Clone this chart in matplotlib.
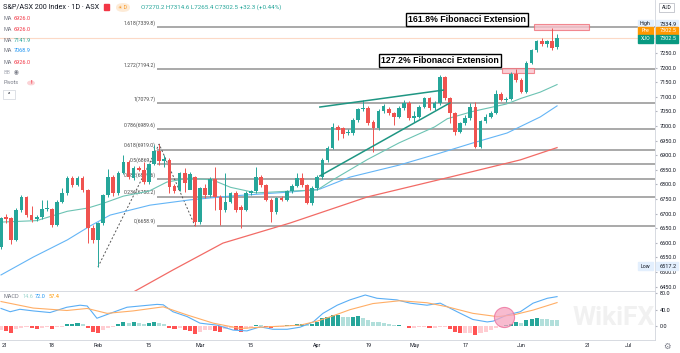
import numpy as np
import matplotlib.pyplot as plt
from matplotlib.patches import Rectangle, FancyBboxPatch

plt.rcParams['font.family'] = ['Roboto', 'DejaVu Sans']

W, H = 680, 353

# daily candles, S&P/ASX 200, 4 Jan 2021 .. 10 Jun 2021 (index = trading day)
opens = [6587, 6690, 6684, 6610, 6712, 6756, 6695, 6680, 6687, 6715,
         6715, 6661, 6741, 6770, 6823, 6798, 6823, 6781, 6650, 6610,
         6667, 6764, 6826, 6770, 6840, 6878, 6821, 6855, 6850, 6807,
         6869, 6914, 6881, 6884, 6795, 6781, 6838, 6780, 6826, 6672,
         6787, 6764, 6818, 6758, 6712, 6741, 6770, 6724, 6712, 6770,
         6776, 6827, 6798, 6747, 6707, 6752, 6747, 6777, 6795, 6823,
         6798, 6737, 6787, 6826, 6884, 6924, 6998, 6992, 6975, 6975,
         7021, 7057, 7063, 7015, 6994, 7051, 7057, 7043, 7032, 7061,
         7080, 7026, 7032, 7066, 7095, 7061, 7078, 7169, 7095, 7043,
         6980, 7009, 7026, 7066, 6929, 7018, 7032, 7046, 7110, 7088,
         7092, 7178, 7158, 7118, 7217, 7260, 7291, 7280, 7291, 7270.2]
highs = [6690, 6700, 6690, 6720, 6765, 6760, 6725, 6695, 6745, 6748,
         6720, 6745, 6787, 6828, 6830, 6828, 6830, 6785, 6660, 6672,
         6768, 6852, 6832, 6845, 6901, 6884, 6862, 6862, 6878, 6875,
         6936, 6938, 6901, 6890, 6800, 6842, 6855, 6841, 6830, 6792,
         6800, 6825, 6861, 6765, 6838, 6775, 6776, 6730, 6776, 6782,
         6859, 6832, 6803, 6752, 6758, 6760, 6782, 6800, 6838, 6838,
         6803, 6795, 6832, 6889, 6930, 7011, 7005, 6998, 6990, 7027,
         7062, 7089, 7068, 7022, 7057, 7075, 7066, 7048, 7068, 7090,
         7085, 7050, 7072, 7100, 7100, 7085, 7175, 7172, 7099, 7048,
         7015, 7038, 7078, 7083, 7022, 7040, 7050, 7123, 7115, 7098,
         7185, 7196, 7165, 7222, 7265, 7295, 7300, 7296, 7334.9, 7314.6]
lows = [6580, 6668, 6595, 6605, 6705, 6690, 6672, 6675, 6682, 6708,
        6655, 6658, 6738, 6765, 6792, 6795, 6775, 6598, 6598, 6517.2,
        6660, 6758, 6762, 6765, 6835, 6818, 6816, 6845, 6800, 6802,
        6865, 6866, 6861, 6770, 6772, 6776, 6775, 6795, 6658.9, 6665,
        6755, 6758, 6712, 6661, 6705, 6735, 6705, 6650, 6708, 6765,
        6772, 6792, 6742, 6672, 6700, 6742, 6742, 6772, 6790, 6792,
        6732, 6730, 6782, 6820, 6878, 6920, 6952, 6958, 6968, 6970,
        7015, 7050, 7005, 6912, 6988, 7045, 7038, 7003, 7026, 7055,
        7020, 7015, 7026, 7060, 7055, 7055, 7072, 7090, 7009, 6969,
        6975, 7003, 7020, 6924, 6925, 7012, 7026, 7040, 7085, 7082,
        7088, 7150, 7112, 7114, 7212, 7255, 7275, 7272, 7260, 7265.4]
closes = [6684, 6682, 6610, 6712, 6756, 6695, 6678, 6687, 6715, 6718,
          6661, 6741, 6770, 6823, 6798, 6823, 6781, 6650, 6610, 6667,
          6764, 6826, 6770, 6840, 6878, 6824, 6855, 6850, 6807, 6869,
          6914, 6881, 6886, 6792, 6777, 6838, 6804, 6836, 6672, 6787,
          6764, 6818, 6758, 6712, 6741, 6770, 6712, 6712, 6770, 6776,
          6827, 6798, 6747, 6707, 6752, 6747, 6777, 6795, 6823, 6798,
          6737, 6787, 6826, 6884, 6924, 6998, 6988, 6972, 6981, 7021,
          7057, 7063, 7011, 6994, 7051, 7068, 7043, 7032, 7061, 7080,
          7026, 7035, 7066, 7095, 7061, 7078, 7169, 7095, 7043, 6980,
          7009, 7026, 7066, 6929, 7018, 7032, 7046, 7110, 7090, 7092,
          7178, 7158, 7118, 7217, 7260, 7291, 7280, 7291, 7266, 7302.5]

# moving averages (day index, value)
ma20_idx = [0, 7, 13, 17, 20, 24, 29, 32.5, 37, 41.5, 45, 50, 56.7, 62, 65, 71.8, 78, 85, 87.5, 92.5, 99, 102, 105.7, 109]
ma20_val = [6671, 6676, 6708, 6719, 6735, 6760, 6777, 6808, 6822, 6815, 6790, 6771, 6777, 6781, 6815, 6885, 6942, 6997, 7025, 7050, 7075, 7095, 7116, 7141.9]
ma50_idx = [0, 6.3, 13, 17.5, 21.4, 29.2, 37, 44.9, 56.7, 62.5, 68.4, 78, 86, 92.5, 99.2, 105.7, 109]
ma50_val = [6490, 6551, 6610, 6658, 6695, 6729, 6747, 6760, 6774, 6784, 6825, 6866, 6907, 6942, 6976, 7031, 7068.9]
ma200_idx = [24, 26.3, 33.7, 43.5, 56.7, 71.8, 88, 101.8, 109]
ma200_val = [6413, 6435, 6507, 6599, 6668, 6757, 6825, 6884, 6926.0]

# fibonacci extension levels
fib_ratio = ['1.618', '1.272', '1', '0.786', '0.618', '0.5', '0.382', '0.236', '0']
fib_price = [7339.8, 7194.2, 7079.7, 6989.6, 6919.0, 6869.3, 6819.6, 6758.2, 6658.9]
fib_pts_idx = [19, 31, 38]
fib_pts_val = [6517.2, 6938.0, 6658.9]

# MACD
macd_idx = [0, 1.8, 3.7, 6.3, 9.6, 12.9, 15.5, 16.9, 18.8, 21.4, 24.7, 30.6, 31.8, 33.7, 36.5, 39,
            42.4, 45.5, 48.2, 50.8, 53.3, 56.1, 58.6, 61.2, 63.1, 65.9, 68.4, 71.4, 73.7, 77.6, 80.2,
            83.5, 86.1, 89.4, 92.5, 95.3, 96.5, 99.2, 101.8, 104.3, 107.1, 109]
macd_val = [43, 35, 41, 37, 33, 46, 51, 49, 19, 31, 46, 53, 52, 35, 23, 7,
            2, -10, -12, -2, -8, -8, -3, 10, 31, 51, 64, 76, 68, 64, 56,
            51, 56, 35, 16, 10, 12, 27, 35, 56, 68, 72.0]
sig_idx = [0, 6.3, 12.9, 16.9, 20.8, 25.9, 31.8, 36.5, 41.6, 46.9, 52.2, 58.6, 62, 65.1, 68.4,
           72.9, 78.2, 83.5, 87.5, 92.5, 97.3, 100.4, 104.3, 109]
sig_val = [60, 44, 38, 43, 31, 37, 47, 27, 7, -6, -2, 2, 12, 25, 40,
           55, 62, 57, 47, 31, 23, 27, 39, 57.4]
hist = [-9, -12, -18, -8, -5, -3, -6, -8, -5, -3,
        -8, -3, -2, 5, 6, 8, 5, -6, -15, -18,
        -9, -5, -3, 6, 9, 8, 9, 8, 6, 8,
        10, 8, 5, -5, -8, -6, -9, -12, -19, -14,
        -10, -9, -12, -14, -8, -5, -9, -14, -8, -5,
        3, 2, -3, -5, -3, -2, 2, 3, 5, 6,
        5, 6, 10, 19, 23, 27, 27, 23, 22, 23,
        25, 19, 15, 10, 9, 7, 5, 3, 3, 1,
        -6, -5, -3, -3, -6, -5, -3, -3, -8, -15,
        -18, -18, -16, -22, -18, -15, -10, -6, -3, 3,
        6, 9, 8, 15, 17, 19, 17, 16, 15.5, 14.6]

tick_pos = [0.8, 10, 19, 29, 39, 49, 62, 72, 81, 91, 102, 115, 123]
tick_lab = ['21', '18', 'Feb', '15', 'Mar', '15', 'Apr', '19', 'May', '17', 'Jun', '21', 'Jul']

UP, DN = '#26a69a', '#ef5350'
TXT = '#131722'
GRAY = '#787b86'


def fx(x):
    return x / W


def fy(y):
    return 1 - y / H


def box(x0, y0, x1, y1, **kw):
    fig.add_artist(Rectangle((fx(x0), fy(y1)), (x1 - x0) / W, (y1 - y0) / H,
                             transform=fig.transFigure, **kw))


fig = plt.figure(figsize=(W / 100, H / 100), dpi=100)
ax = fig.add_axes([0, fy(291), 655 / W, 291 / H])
ax2 = fig.add_axes([0, fy(340), 655 / W, 49 / H])

idx = np.arange(len(closes))
o, h, l, c = map(np.array, (opens, highs, lows, closes))
col = np.where(c >= o, UP, DN)

# fib levels + labels
for r, p in zip(fib_ratio, fib_price):
    ax.hlines(p, 30.6, 130, color='#a3a3a3', lw=1.3, zorder=1)
    ax.text(30.4, p + 4, f'{r}({p:.1f})', ha='right', va='bottom', fontsize=3.7,
            color='#4a4a4a', zorder=1)
ax.plot(fib_pts_idx, fib_pts_val, color='#555555', lw=0.7, ls=(0, (2, 2)), zorder=2)

# current price line
ax.axhline(closes[-1], color='#fcd9c6', lw=0.8, zorder=1)

# moving averages
ax.plot(ma200_idx, ma200_val, color='#f26b66', lw=0.9, zorder=2)
ax.plot(ma50_idx, ma50_val, color='#64b5f6', lw=0.8, zorder=2)
ax.plot(ma20_idx, ma20_val, color='#6cc3b3', lw=0.8, zorder=2)

# trendlines
ax.plot([62.5, 86.7], [7065, 7123], color='#1f9683', lw=1.1, zorder=4)
ax.plot([62.5, 88], [6829, 7079], color='#1f9683', lw=1.1, zorder=4)

# candles
ax.vlines(idx, l, h, colors=col, lw=0.7, zorder=3)
ax.bar(idx, np.where(np.abs(c - o) < 2, 2, c - o), bottom=o, width=0.72, color=col, zorder=3)

# resistance zones
ax.add_patch(Rectangle((104.5, 7328), 10.7, 22, fc='#f8c4cc', ec='#ef6f78', lw=0.8, alpha=0.8, zorder=2))
ax.add_patch(Rectangle((98.2, 7180), 6.3, 18, fc='#f8c4cc', ec='#ef6f78', lw=0.8, alpha=0.8, zorder=2))

ax.set_xlim(-0.2, 128.2)
ax.set_ylim(6435, 7431.5)
ax.yaxis.tick_right()
ax.set_yticks(np.arange(6450, 7251, 50))
ax.set_yticklabels([f'{v:.1f}' for v in np.arange(6450, 7251, 50)])
ax.tick_params(axis='y', labelsize=4, pad=2, length=1.5, colors='#b2b5be', labelcolor=TXT)
ax.set_xticks([])
for s in ['top', 'left', 'bottom']:
    ax.spines[s].set_visible(False)
ax.spines['right'].set_color('#d1d4dc')
ax.spines['right'].set_linewidth(0.6)

# MACD pane
hc = []
for k, v in enumerate(hist):
    prev = hist[k - 1] if k else v
    if v >= 0:
        hc.append('#26a69a' if v >= prev else '#b2dfdb')
    else:
        hc.append('#ff5252' if v < prev else '#ffcdd2')
ax2.bar(idx, hist, width=0.8, color=hc, zorder=2)
ax2.plot(macd_idx, macd_val, color='#5aaef5', lw=0.8, zorder=3)
ax2.plot(sig_idx, sig_val, color='#ffae66', lw=0.8, zorder=3)
ax2.scatter([98.6], [22], s=210, color='#f6a5c0', alpha=0.75, edgecolor='#ec6a98', lw=0.8, zorder=4)
ax2.text(112, 20, 'WikiFX', fontsize=19, fontweight='bold', color='#f1f1f1', ha='left',
         va='center', zorder=1)
ax2.set_xlim(-0.2, 128.2)
ax2.set_ylim(-34.3, 85.8)
ax2.yaxis.tick_right()
ax2.set_yticks([0, 40, 80])
ax2.set_yticklabels(['0.0', '40.0', '80.0'])
ax2.tick_params(axis='y', labelsize=4, pad=2, length=1.5, colors='#b2b5be', labelcolor=TXT)
ax2.set_xticks(tick_pos)
ax2.set_xticklabels(tick_lab)
ax2.tick_params(axis='x', labelsize=3.9, pad=2, length=0, labelcolor=TXT)
ax2.spines['left'].set_visible(False)
for s in ['top', 'bottom', 'right']:
    ax2.spines[s].set_color('#d1d4dc')
    ax2.spines[s].set_linewidth(0.6)

# header / legend
fig.text(fx(3), fy(7), 'S&P/ASX 200 Index · 1D · ASX', fontsize=5.2, color=TXT, va='center')
box(104, 4, 108.5, 10, color='#f23645')
fig.add_artist(FancyBboxPatch((fx(116), fy(12)), 14 / W, 9 / H, boxstyle='round,pad=0,rounding_size=0.012',
                              transform=fig.transFigure, fc='#fdebd7', ec='none'))
fig.text(fx(123), fy(7.3), '☀ D', fontsize=3.6, color='#f7931a', va='center', ha='center')
fig.text(fx(141), fy(7), 'O7270.2 H7314.6 L7265.4 C7302.5 +32.3 (+0.44%)', fontsize=4.5,
         color=UP, va='center')

legend_rows = [('6926.0', '#f23645', 19), ('6926.0', '#f23645', 29.5), ('7141.9', '#26a69a', 40.5),
               ('7068.9', '#2196f3', 51), ('6926.0', '#f23645', 62)]
for val, cl, yy in legend_rows:
    fig.text(fx(3), fy(yy), 'MA', fontsize=4, color=GRAY, va='center')
    fig.text(fx(13.5), fy(yy), val, fontsize=4, color=cl, va='center')
fig.text(fx(3), fy(72), 'BB', fontsize=4, color='#b2b5be', va='center')
fig.text(fx(14), fy(72), '◉', fontsize=4, color=GRAY, va='center')
fig.text(fx(3), fy(83), 'Pivots', fontsize=4, color=GRAY, va='center')
fig.add_artist(plt.Circle((fx(31), fy(83)), 3.2 / W, transform=fig.transFigure, color='#fbd3d6'))
fig.text(fx(31), fy(83), '!', fontsize=4, color='#f23645', va='center', ha='center', fontweight='bold')
box(3, 90, 15, 99, fc='white', ec='#d1d4dc', lw=0.5)
fig.text(fx(9), fy(94.5), '^', fontsize=4, color=TXT, va='center', ha='center')

fig.text(fx(3), fy(297), 'MACD', fontsize=4, color=GRAY, va='center')
fig.text(fx(22), fy(297), '14.6', fontsize=4, color='#9fd6cf', va='center')
fig.text(fx(35), fy(297), '72.0', fontsize=4, color='#2196f3', va='center')
fig.text(fx(49), fy(297), '57.4', fontsize=4, color='#ff9800', va='center')

# callouts
fig.text(fx(467), fy(19.5), '161.8% Fibonacci Extension', fontsize=6.3, fontweight='bold',
         family='Liberation Sans', color='black', ha='center', va='center',
         bbox=dict(boxstyle='square,pad=0.25', fc='white', ec='black', lw=1))
fig.text(fx(440), fy(60.5), '127.2% Fibonacci Extension', fontsize=6.3, fontweight='bold',
         family='Liberation Sans', color='black', ha='center', va='center',
         bbox=dict(boxstyle='square,pad=0.25', fc='white', ec='black', lw=1))

# right-hand price tags
for name, price, yy, bg, fg in [('High', '7334.9', 24, '#e3effd', TXT), ('Pre', '7302.5', 31, '#ff9800', 'white'),
                                ('XJO', '7302.5', 39, '#089981', 'white'), ('Low', '6517.2', 266, '#e3effd', TXT)]:
    box(638, yy - 3.8, 653, yy + 3.8, color=bg)
    box(656, yy - 3.8, 678, yy + 3.8, color=bg)
    fig.text(fx(645.5), fy(yy), name, fontsize=3.8, color=fg, va='center', ha='center')
    fig.text(fx(677), fy(yy), price, fontsize=4, color=fg, va='center', ha='right')

box(659, 3, 674, 12, fc='white', ec='#b2b5be', lw=0.5)
fig.text(fx(666.5), fy(7.5), 'AUD', fontsize=3.6, color=TXT, va='center', ha='center')
fig.text(fx(667), fy(346), '⚙', fontsize=6, color=GRAY, va='center', ha='center', family='DejaVu Sans')

fig.savefig('out.png', dpi=100, facecolor='white')
